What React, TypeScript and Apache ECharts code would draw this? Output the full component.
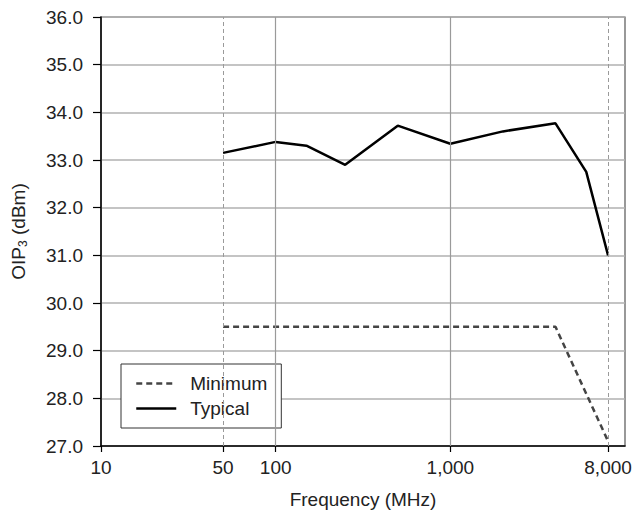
import React, { useEffect, useRef } from "react";
import * as echarts from "echarts";

const typicalFreq = [50, 100, 150, 250, 500, 1000, 2000, 4000, 6000, 8000];
const typicalOip3 = [33.15, 33.38, 33.3, 32.9, 33.72, 33.34, 33.6, 33.77, 32.75, 31.0];
const minimumFreq = [50, 4000, 8000];
const minimumOip3 = [29.5, 29.5, 27.1];
const xTickValues = [10, 50, 100, 1000, 8000];
const solidGridFreq = [100, 1000];
const dashedGridFreq = [50, 8000];

const FONT = "'Liberation Sans', Arial, Helvetica, sans-serif";
const FS = 19;

export default function App() {
  const ref = useRef<HTMLDivElement>(null);
  useEffect(() => {
    if (!ref.current) return;
    const chart = echarts.init(ref.current, null, { renderer: "svg" });
    const pairs = (xs: number[], ys: number[]) => xs.map((x, i) => [x, ys[i]]);
    chart.setOption({
      animation: false,
      textStyle: { fontFamily: FONT, color: "#222" },
      grid: {
        left: 101,
        top: 17,
        right: 10,
        bottom: 72,
        show: true,
        borderColor: "#555",
        borderWidth: 1.2,
      },
      legend: {
        data: ["Minimum", "Typical"],
        orient: "vertical",
        left: 121,
        top: 364,
        padding: [10, 14, 10, 14],
        itemWidth: 40,
        itemHeight: 14,
        itemGap: 6,
        backgroundColor: "#fff",
        borderColor: "#333",
        borderWidth: 1,
        itemStyle: { opacity: 0 },
        lineStyle: { width: 2.5 },
        textStyle: { fontFamily: FONT, fontSize: FS, color: "#222", padding: [0, 0, 0, 9] },
      },
      xAxis: {
        type: "log",
        logBase: 10,
        min: 10,
        max: 10000,
        name: "Frequency (MHz)",
        nameLocation: "middle",
        nameGap: 44,
        nameTextStyle: { fontFamily: FONT, fontSize: FS, color: "#222" },
        axisLine: { show: true, lineStyle: { color: "#000", width: 1.5 } },
        axisTick: {
          show: true,
          length: 6,
          lineStyle: { color: "#000", width: 1.2 },
          customValues: xTickValues,
        },
        axisLabel: {
          fontFamily: FONT,
          fontSize: FS,
          color: "#222",
          margin: 12,
          customValues: xTickValues,
          formatter: (v: number) => Number(v).toLocaleString("en-US"),
        },
        splitLine: { show: false },
        minorTick: { show: false },
      },
      yAxis: {
        type: "value",
        min: 27,
        max: 36,
        interval: 1,
        name: "{n|OIP}{s|3}{n| (dBm)}",
        nameLocation: "middle",
        nameRotate: 90,
        nameGap: 72,
        nameTextStyle: {
          fontFamily: FONT,
          fontSize: FS,
          color: "#222",
          rich: {
            n: { fontFamily: FONT, fontSize: FS, color: "#222" },
            s: { fontFamily: FONT, fontSize: 12, color: "#222", padding: [9, 0, 0, 0] },
          },
        },
        axisLine: { show: true, lineStyle: { color: "#000", width: 1.5 } },
        axisTick: { show: true, length: 8, lineStyle: { color: "#000", width: 1.2 } },
        axisLabel: {
          fontFamily: FONT,
          fontSize: FS,
          color: "#222",
          margin: 18,
          formatter: (v: number) => v.toFixed(1),
        },
        splitLine: { show: true, lineStyle: { color: "#b0b0b0", width: 1.5 } },
      },
      series: [
        {
          type: "line",
          name: "",
          data: [],
          silent: true,
          markLine: {
            silent: true,
            symbol: "none",
            label: { show: false },
            data: [
              ...solidGridFreq.map((f) => ({
                xAxis: f,
                lineStyle: { color: "#9a9a9a", width: 1.2, type: "solid" },
              })),
              ...dashedGridFreq.map((f) => ({
                xAxis: f,
                lineStyle: { color: "#9a9a9a", width: 1, type: [4, 3] },
              })),
            ],
          },
        },
        {
          type: "line",
          name: "Minimum",
          data: pairs(minimumFreq, minimumOip3),
          symbol: "none",
          showSymbol: false,
          lineStyle: { color: "#444", width: 2.5, type: [6, 4] },
          itemStyle: { color: "#444" },
        },
        {
          type: "line",
          name: "Typical",
          data: pairs(typicalFreq, typicalOip3),
          symbol: "none",
          showSymbol: false,
          lineStyle: { color: "#000", width: 2.5 },
          itemStyle: { color: "#000" },
        },
      ],
    });
    return () => chart.dispose();
  }, []);
  return (
    <div
      ref={ref}
      style={{ position: "absolute", left: 0, top: 0, width: 635, height: 518 }}
    />
  );
}
